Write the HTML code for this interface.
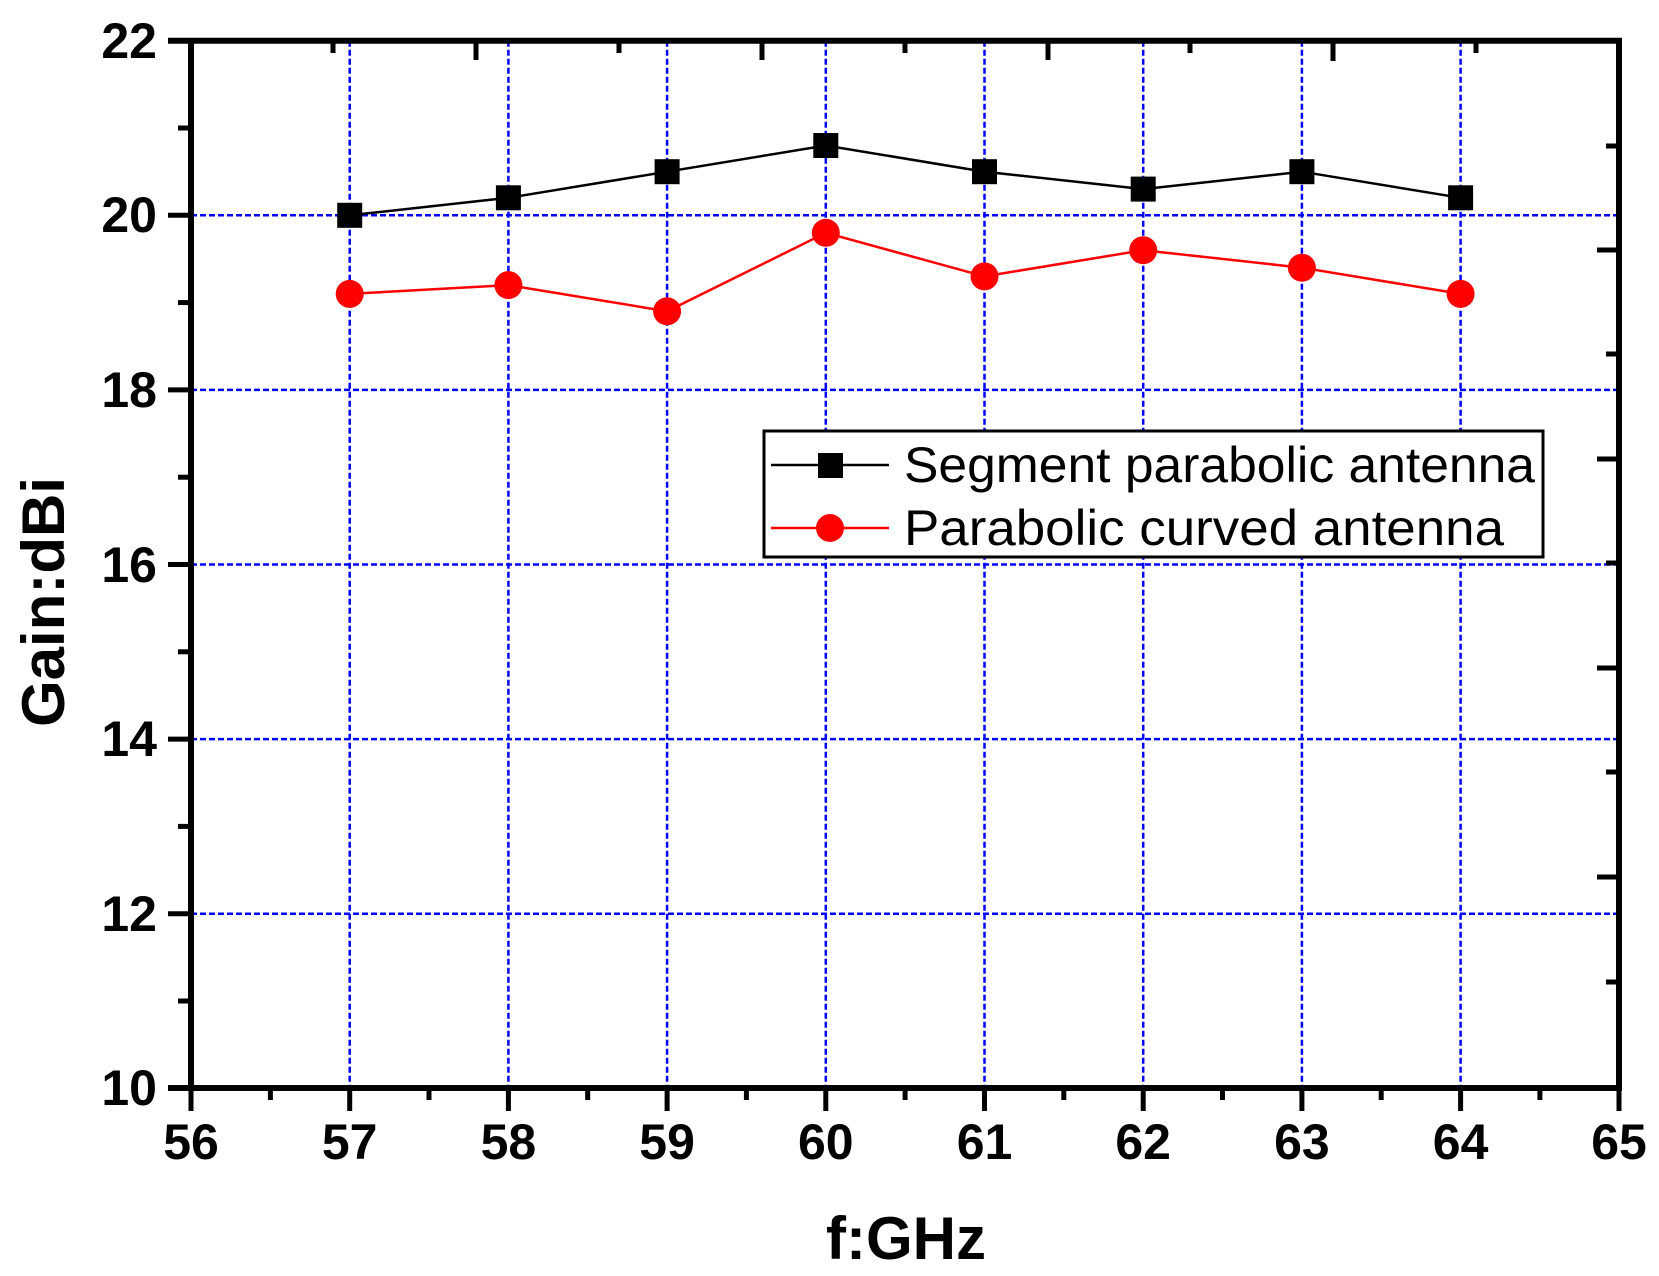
<!DOCTYPE html>
<html><head><meta charset="utf-8"><style>html,body{margin:0;padding:0;background:#fff}svg{display:block}</style></head>
<body>
<svg width="1659" height="1276" viewBox="0 0 1659 1276" xmlns="http://www.w3.org/2000/svg" font-family="Liberation Sans, Arial, sans-serif">
<rect width="1659" height="1276" fill="#fff"/>
<g stroke="#0000ff" stroke-width="2.5" stroke-dasharray="6,3">
<line x1="349.7" y1="40.7" x2="349.7" y2="1088"/>
<line x1="508.4" y1="40.7" x2="508.4" y2="1088"/>
<line x1="667.1" y1="40.7" x2="667.1" y2="1088"/>
<line x1="825.8" y1="40.7" x2="825.8" y2="1088"/>
<line x1="984.5" y1="40.7" x2="984.5" y2="1088"/>
<line x1="1143.2" y1="40.7" x2="1143.2" y2="1088"/>
<line x1="1301.9" y1="40.7" x2="1301.9" y2="1088"/>
<line x1="1460.6" y1="40.7" x2="1460.6" y2="1088"/>
<line x1="191" y1="215.3" x2="1619" y2="215.3"/>
<line x1="191" y1="389.9" x2="1619" y2="389.9"/>
<line x1="191" y1="564.5" x2="1619" y2="564.5"/>
<line x1="191" y1="739.1" x2="1619" y2="739.1"/>
<line x1="191" y1="913.7" x2="1619" y2="913.7"/>
</g>
<polyline fill="none" stroke="#000" stroke-width="2.5" points="349.7,215.3 508.4,197.8 667.1,171.7 825.8,145.5 984.5,171.7 1143.2,189.1 1301.9,171.7 1460.6,197.8"/>
<polyline fill="none" stroke="#f00" stroke-width="2.5" points="349.7,293.9 508.4,285.1 667.1,311.3 825.8,232.8 984.5,276.4 1143.2,250.2 1301.9,267.7 1460.6,293.9"/>
<g fill="#000">
<rect x="337.2" y="202.8" width="25" height="25"/><rect x="495.9" y="185.3" width="25" height="25"/><rect x="654.6" y="159.2" width="25" height="25"/><rect x="813.3" y="133" width="25" height="25"/><rect x="972" y="159.2" width="25" height="25"/><rect x="1130.7" y="176.6" width="25" height="25"/><rect x="1289.4" y="159.2" width="25" height="25"/><rect x="1448.1" y="185.3" width="25" height="25"/>
</g>
<g fill="#f00">
<circle cx="349.7" cy="293.9" r="14"/><circle cx="508.4" cy="285.1" r="14"/><circle cx="667.1" cy="311.3" r="14"/><circle cx="825.8" cy="232.8" r="14"/><circle cx="984.5" cy="276.4" r="14"/><circle cx="1143.2" cy="250.2" r="14"/><circle cx="1301.9" cy="267.7" r="14"/><circle cx="1460.6" cy="293.9" r="14"/>
</g>
<g stroke="#000" stroke-width="6" fill="none">
<line x1="168" y1="40.7" x2="1622" y2="40.7"/>
<line x1="191" y1="38" x2="191" y2="1091"/>
<line x1="1619" y1="38" x2="1619" y2="1091"/>
<line x1="168" y1="1088" x2="1622" y2="1088"/>
</g>
<g stroke="#000" stroke-width="5">
<!-- left major -->
<line x1="168" y1="215.3" x2="191" y2="215.3"/><line x1="168" y1="389.9" x2="191" y2="389.9"/><line x1="168" y1="564.5" x2="191" y2="564.5"/><line x1="168" y1="739.1" x2="191" y2="739.1"/><line x1="168" y1="913.7" x2="191" y2="913.7"/>
<!-- left minor -->
<line x1="178" y1="128" x2="191" y2="128"/><line x1="178" y1="302.6" x2="191" y2="302.6"/><line x1="178" y1="477.2" x2="191" y2="477.2"/><line x1="178" y1="651.8" x2="191" y2="651.8"/><line x1="178" y1="826.4" x2="191" y2="826.4"/><line x1="178" y1="1001" x2="191" y2="1001"/>
<!-- bottom major -->
<line x1="191" y1="1088" x2="191" y2="1111"/><line x1="349.7" y1="1088" x2="349.7" y2="1111"/><line x1="508.4" y1="1088" x2="508.4" y2="1111"/><line x1="667.1" y1="1088" x2="667.1" y2="1111"/><line x1="825.8" y1="1088" x2="825.8" y2="1111"/><line x1="984.5" y1="1088" x2="984.5" y2="1111"/><line x1="1143.2" y1="1088" x2="1143.2" y2="1111"/><line x1="1301.9" y1="1088" x2="1301.9" y2="1111"/><line x1="1460.6" y1="1088" x2="1460.6" y2="1111"/><line x1="1619" y1="1088" x2="1619" y2="1111"/>
<!-- bottom minor -->
<line x1="270.4" y1="1088" x2="270.4" y2="1100"/><line x1="429" y1="1088" x2="429" y2="1100"/><line x1="587.7" y1="1088" x2="587.7" y2="1100"/><line x1="746.4" y1="1088" x2="746.4" y2="1100"/><line x1="905.1" y1="1088" x2="905.1" y2="1100"/><line x1="1063.8" y1="1088" x2="1063.8" y2="1100"/><line x1="1222.5" y1="1088" x2="1222.5" y2="1100"/><line x1="1381.2" y1="1088" x2="1381.2" y2="1100"/><line x1="1539.9" y1="1088" x2="1539.9" y2="1100"/>
<!-- top ticks inward -->
<line x1="333" y1="40.7" x2="333" y2="53"/><line x1="476" y1="40.7" x2="476" y2="60"/><line x1="619" y1="40.7" x2="619" y2="53"/><line x1="762" y1="40.7" x2="762" y2="60"/><line x1="905" y1="40.7" x2="905" y2="53"/><line x1="1048" y1="40.7" x2="1048" y2="60"/><line x1="1190" y1="40.7" x2="1190" y2="53"/><line x1="1333" y1="40.7" x2="1333" y2="61"/><line x1="1476" y1="40.7" x2="1476" y2="53"/>
<!-- right ticks inward -->
<line x1="1606" y1="146" x2="1619" y2="146"/><line x1="1597" y1="250" x2="1619" y2="250"/><line x1="1606" y1="354" x2="1619" y2="354"/><line x1="1597" y1="459" x2="1619" y2="459"/><line x1="1606" y1="563" x2="1619" y2="563"/><line x1="1597" y1="668" x2="1619" y2="668"/><line x1="1606" y1="772" x2="1619" y2="772"/><line x1="1597" y1="877" x2="1619" y2="877"/><line x1="1606" y1="982" x2="1619" y2="982"/>
</g>
<g font-size="50" font-weight="bold" text-anchor="end" fill="#000">
<text x="157" y="58">22</text><text x="157" y="232">20</text><text x="157" y="407">18</text><text x="157" y="582">16</text><text x="157" y="756">14</text><text x="157" y="931">12</text><text x="157" y="1105">10</text>
</g>
<g font-size="50" font-weight="bold" text-anchor="middle" fill="#000">
<text x="191" y="1159">56</text><text x="349.7" y="1159">57</text><text x="508.4" y="1159">58</text><text x="667.1" y="1159">59</text><text x="825.8" y="1159">60</text><text x="984.5" y="1159">61</text><text x="1143.2" y="1159">62</text><text x="1301.9" y="1159">63</text><text x="1460.6" y="1159">64</text><text x="1619" y="1159">65</text>
</g>
<text x="906" y="1259" font-size="60" font-weight="bold" text-anchor="middle">f:GHz</text>
<text transform="translate(64,602) rotate(-90)" font-size="60" font-weight="bold" text-anchor="middle">Gain:dBi</text>
<rect x="764" y="431" width="779" height="126" fill="#fff" stroke="#000" stroke-width="3"/>
<line x1="771" y1="465" x2="889" y2="465" stroke="#000" stroke-width="2.5"/>
<rect x="818" y="453" width="25" height="25" fill="#000"/>
<line x1="771" y1="528" x2="889" y2="528" stroke="#f00" stroke-width="2.5"/>
<circle cx="830" cy="528" r="14" fill="#f00"/>
<text x="904" y="482" font-size="50" textLength="631" lengthAdjust="spacingAndGlyphs">Segment parabolic antenna</text>
<text x="904" y="545" font-size="50" textLength="600" lengthAdjust="spacingAndGlyphs">Parabolic curved  antenna</text>
</svg>
</body></html>
